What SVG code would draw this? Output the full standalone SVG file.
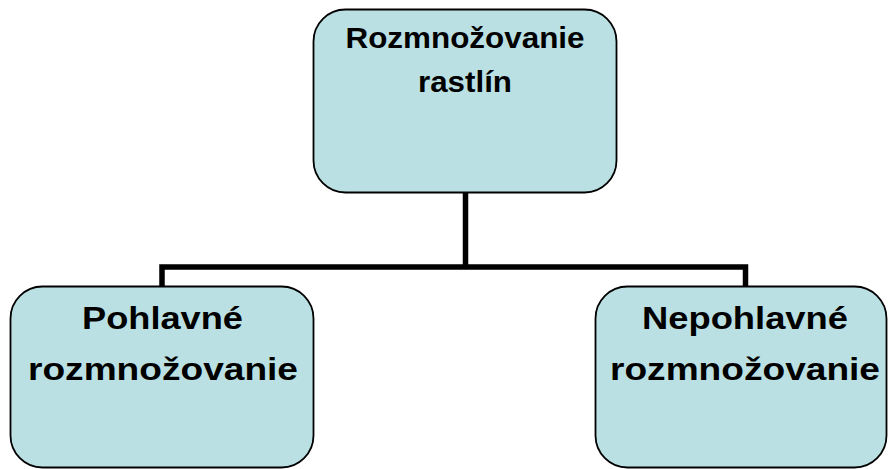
<svg xmlns="http://www.w3.org/2000/svg" width="888" height="469" viewBox="0 0 888 469">
<style>
.box{fill:#BBE0E3;stroke:#000;stroke-width:1.8}
.t{font-family:"Liberation Sans",Arial,sans-serif;font-weight:bold;fill:#000;text-anchor:middle}
.conn{fill:none;stroke:#000;stroke-width:5.5;stroke-linejoin:miter}
</style>
<g id="connectors">
<path class="conn" d="M465.5,193 V267 M162,286 V267 H745.5 V286"/>
</g>
<g id="root">
<rect class="box" x="313.5" y="9.5" width="303" height="183" rx="32" ry="32"/>
<text class="t" x="465" y="48" font-size="30" textLength="239" lengthAdjust="spacingAndGlyphs">Rozmnožovanie</text>
<text class="t" x="465" y="92" font-size="30" textLength="94" lengthAdjust="spacingAndGlyphs">rastlín</text>
</g>
<g id="sexual">
<rect class="box" x="10.5" y="286.5" width="303" height="181" rx="32" ry="32"/>
<text class="t" x="162.5" y="329" font-size="32" textLength="161" lengthAdjust="spacingAndGlyphs">Pohlavné</text>
<text class="t" x="163" y="380" font-size="32" textLength="270" lengthAdjust="spacingAndGlyphs">rozmnožovanie</text>
</g>
<g id="asexual">
<rect class="box" x="595.5" y="286.5" width="291" height="181" rx="32" ry="32"/>
<text class="t" x="745" y="329" font-size="32" textLength="206" lengthAdjust="spacingAndGlyphs">Nepohlavné</text>
<text class="t" x="745" y="380" font-size="32" textLength="270" lengthAdjust="spacingAndGlyphs">rozmnožovanie</text>
</g>
</svg>
